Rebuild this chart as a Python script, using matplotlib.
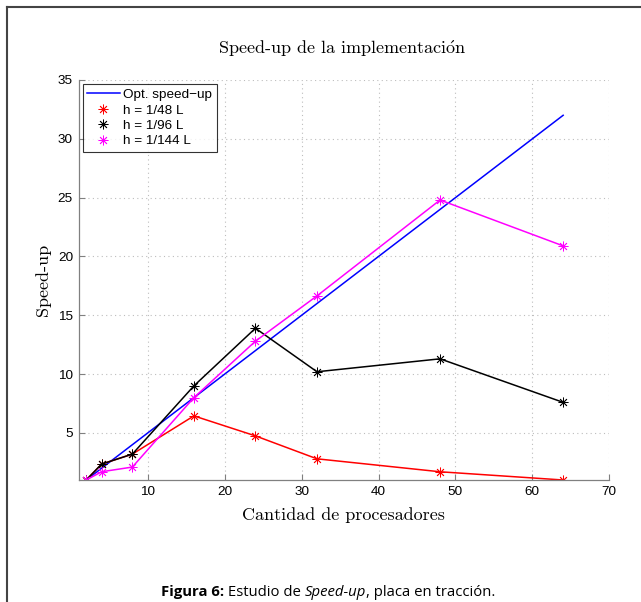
import matplotlib
matplotlib.use("Agg")
import matplotlib.pyplot as plt
from matplotlib.lines import Line2D

plt.rcParams["mathtext.fontset"] = "cm"

procs = [2, 4, 8, 16, 24, 32, 48, 64]
opt_speedup = [1, 2, 4, 8, 12, 16, 24, 32]
h48 = [1.0, 2.35, 3.2, 6.45, 4.75, 2.8, 1.7, 1.0]
h96 = [1.0, 2.35, 3.2, 9.0, 13.9, 10.2, 11.3, 7.6]
h144 = [1.0, 1.7, 2.1, 8.0, 12.8, 16.65, 24.8, 20.9]

labels = ["Opt. speed\u2212up", "h = 1/48 L", "h = 1/96 L", "h = 1/144 L"]
xticks = [10, 20, 30, 40, 50, 60, 70]
yticks = [5, 10, 15, 20, 25, 30, 35]

W, H = 641, 602
fig = plt.figure(figsize=(W / 100, H / 100), dpi=100)
ax = fig.add_axes([78.5 / W, 1 - 480 / H, (609.3 - 78.5) / W, (480 - 80) / H])

serif = ["cmr10", "DejaVu Serif"]
sans = ["Liberation Sans", "DejaVu Sans"]

star = (8, 2, 0)
ms = 7
mew = 0.6
lw = 1.1
ax.plot(procs, opt_speedup, color="#0000ff", lw=lw)
ax.plot(procs, h48, color="#ff0000", lw=lw, marker=star, ms=ms, mew=mew)
ax.plot(procs, h96, color="#000000", lw=lw, marker=star, ms=ms, mew=mew)
ax.plot(procs, h144, color="#ff00ff", lw=lw, marker=star, ms=ms, mew=mew)

ax.set_xlim(1, 70)
ax.set_ylim(1, 35)
ax.set_xticks(xticks)
ax.set_yticks(yticks)
for t in ax.get_xticklabels() + ax.get_yticklabels():
    t.set_fontfamily(sans)
    t.set_fontsize(9.7)
ax.tick_params(direction="in", length=4, width=0.8, color="#808080", pad=4)
for s in ["top", "right"]:
    ax.spines[s].set_visible(False)
for s in ["left", "bottom"]:
    ax.spines[s].set_color("#808080")
    ax.spines[s].set_linewidth(0.9)
ax.grid(True, linestyle=(0, (1, 3)), color="#bdbdbd", lw=0.8)
ax.set_axisbelow(True)

ax.set_xlabel("Cantidad de procesadores", fontfamily=serif, fontsize=13, labelpad=7)
ax.set_ylabel("Speed-up", fontfamily=serif, fontsize=13, labelpad=5)
fig.text(342 / W, 1 - 49 / H, r"Speed-up de la implementaci$\mathrm{\acute{o}}$n",
         fontfamily=serif, fontsize=13, ha="center", va="center")

handles = [
    Line2D([], [], color="#0000ff", lw=lw),
    Line2D([], [], color="#ff0000", lw=0, marker=star, ms=ms, mew=mew),
    Line2D([], [], color="#000000", lw=0, marker=star, ms=ms, mew=mew),
    Line2D([], [], color="#ff00ff", lw=0, marker=star, ms=ms, mew=mew),
]
leg = ax.legend(handles, labels, loc="upper left", prop={"family": sans, "size": 9.7},
                frameon=True, fancybox=False, borderpad=0.35, labelspacing=0.22,
                handlelength=2.4, handletextpad=0.25, borderaxespad=0.3)
leg.get_frame().set_edgecolor("black")
leg.get_frame().set_linewidth(0.8)

# page frame
fig.add_artist(Line2D([7 / W, 7 / W], [0, 1 - 6.5 / H], transform=fig.transFigure,
                      color="#444444", lw=1.5))
fig.add_artist(Line2D([7 / W, 1], [1 - 6.5 / H, 1 - 6.5 / H], transform=fig.transFigure,
                      color="#444444", lw=1.5))

# caption with mixed styles
pieces = [("Figura 6:", "bold", "normal"), (" Estudio de ", "normal", "normal"),
          ("Speed-up", "normal", "italic"), (", placa en tracción.", "normal", "normal")]
cap_font = ["Open Sans", "DejaVu Sans"]
fig.canvas.draw()
r = fig.canvas.get_renderer()
texts = []
widths = []
for s, wgt, sty in pieces:
    t = fig.text(0, 1 - 592 / H, s, fontfamily=cap_font, fontsize=10.7, fontweight=wgt,
                 fontstyle=sty, ha="left", va="center")
    texts.append(t)
    widths.append(t.get_window_extent(r).width)
total = sum(widths)
x0 = 328 - total / 2
for t, w in zip(texts, widths):
    t.set_x(x0 / W)
    x0 += w

fig.savefig("out.png", dpi=100)
